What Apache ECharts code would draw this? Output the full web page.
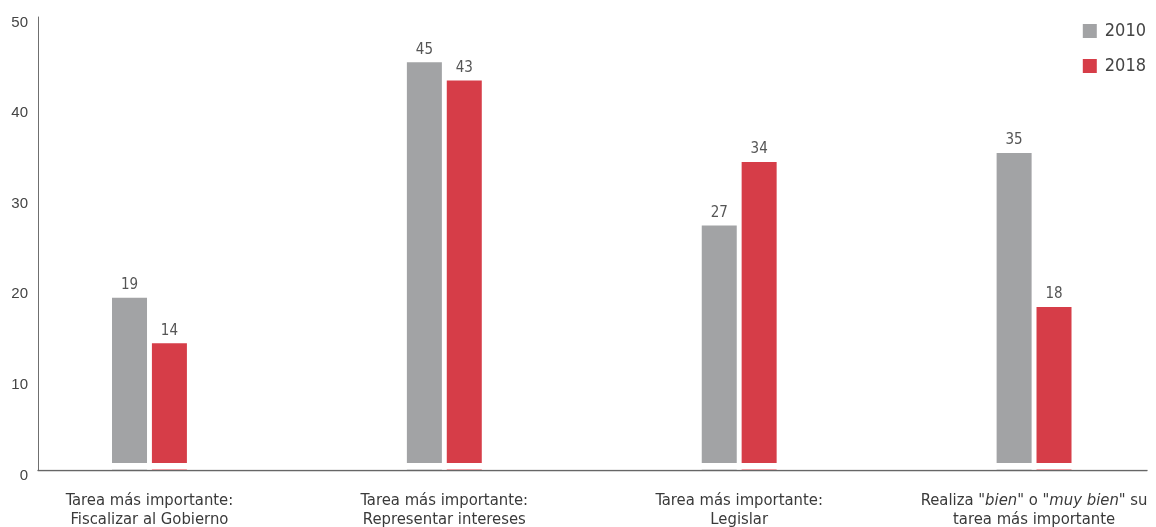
<!DOCTYPE html>
<html>
<head>
<meta charset="utf-8">
<title>Tareas del Congreso: 2010 y 2018</title>
<script src="https://cdn.jsdelivr.net/npm/echarts@6/dist/echarts.min.js"></script>
<style>
  html, body { margin: 0; padding: 0; background: #ffffff; }
  #chart { width: 1156px; height: 527px; }
</style>
</head>
<body>
<div id="chart"></div>
<script>
// Categories (rich-text markup marks the italic words)
const categories = [
  'Tarea más importante:\nFiscalizar al Gobierno',
  'Tarea más importante:\nRepresentar intereses',
  'Tarea más importante:\nLegislar',
  'Realiza "{i|bien}" o "{i|muy bien}" su\ntarea más importante'
];
const seriesNames = ['2010', '2018'];
const values2010 = [19, 45, 27, 35];
const values2018 = [14, 43, 34, 18];
const yTicks = [0, 10, 20, 30, 40, 50];

const COLORS = ['#a2a3a5', '#d63d48'];
const NARROW = "'Liberation Sans Narrow', 'DejaVu Sans Condensed', sans-serif";
const REGULAR = "'Liberation Sans', Arial, sans-serif";
const GRID = { left: 38, right: 9, top: 17, bottom: 57 };

const W = 1156, H = 527;
const chart = echarts.init(document.getElementById('chart'), null, { renderer: 'canvas' });

// Category positions along a value axis so the groups sit where wanted within the axis line
const xPositions = categories.map((_, i) => i);

function barSeries(name, vals, color) {
  return {
    name: name,
    type: 'bar',
    barWidth: 35,
    barGap: '14%',
    data: vals.map((v, i) => [xPositions[i], v]),
    itemStyle: { color: color },
    label: {
      show: true,
      position: 'top',
      distance: 5,
      color: '#555',
      fontFamily: NARROW,
      fontSize: 15,
      formatter: p => String(p.value[1])
    }
  };
}

chart.setOption({
  animation: false,
  backgroundColor: '#ffffff',
  grid: {
    left: GRID.left, right: GRID.right, top: GRID.top, bottom: GRID.bottom,
    containLabel: false,
    outerBoundsMode: 'none'
  },
  legend: {
    data: seriesNames,
    orient: 'vertical',
    right: 5,
    top: 17,
    itemWidth: 14,
    itemHeight: 14,
    itemGap: 17,
    icon: 'rect',
    textStyle: { color: '#444', fontFamily: NARROW, fontSize: 18, padding: [0, 0, 0, 3] }
  },
  xAxis: {
    type: 'value',
    min: -0.378,
    max: 3.383,
    splitLine: { show: false },
    axisTick: { show: false },
    axisLine: { show: true, onZero: false, lineStyle: { color: '#666666', width: 1.3 } },
    axisLabel: {
      customValues: xPositions,
      margin: 21,
      color: '#3a3a3a',
      fontFamily: NARROW,
      fontSize: 16.5,
      lineHeight: 19,
      formatter: v => categories[Math.round(v)],
      rich: {
        i: { fontStyle: 'italic', color: '#3a3a3a', fontFamily: NARROW, fontSize: 16.5, lineHeight: 19 }
      }
    }
  },
  yAxis: {
    type: 'value',
    min: 0,
    max: 50,
    interval: 10,
    splitLine: { show: false },
    axisTick: { show: false },
    axisLine: { show: true, onZero: false, lineStyle: { color: '#6f6f6f', width: 1 } },
    axisLabel: {
      customValues: yTicks,
      margin: 10,
      color: '#444',
      fontFamily: REGULAR,
      fontSize: 15,
      verticalAlign: 'top',
      lineHeight: 11
    }
  },
  // thin white band that lifts the columns slightly off the baseline
  graphic: [{
    type: 'rect',
    z: 100,
    silent: true,
    shape: { x: GRID.left + 1, y: H - GRID.bottom - 7, width: W - GRID.left - GRID.right - 1, height: 6.4 },
    style: { fill: '#ffffff' }
  }],
  series: [
    barSeries(seriesNames[0], values2010, COLORS[0]),
    barSeries(seriesNames[1], values2018, COLORS[1])
  ]
});
</script>
</body>
</html>
